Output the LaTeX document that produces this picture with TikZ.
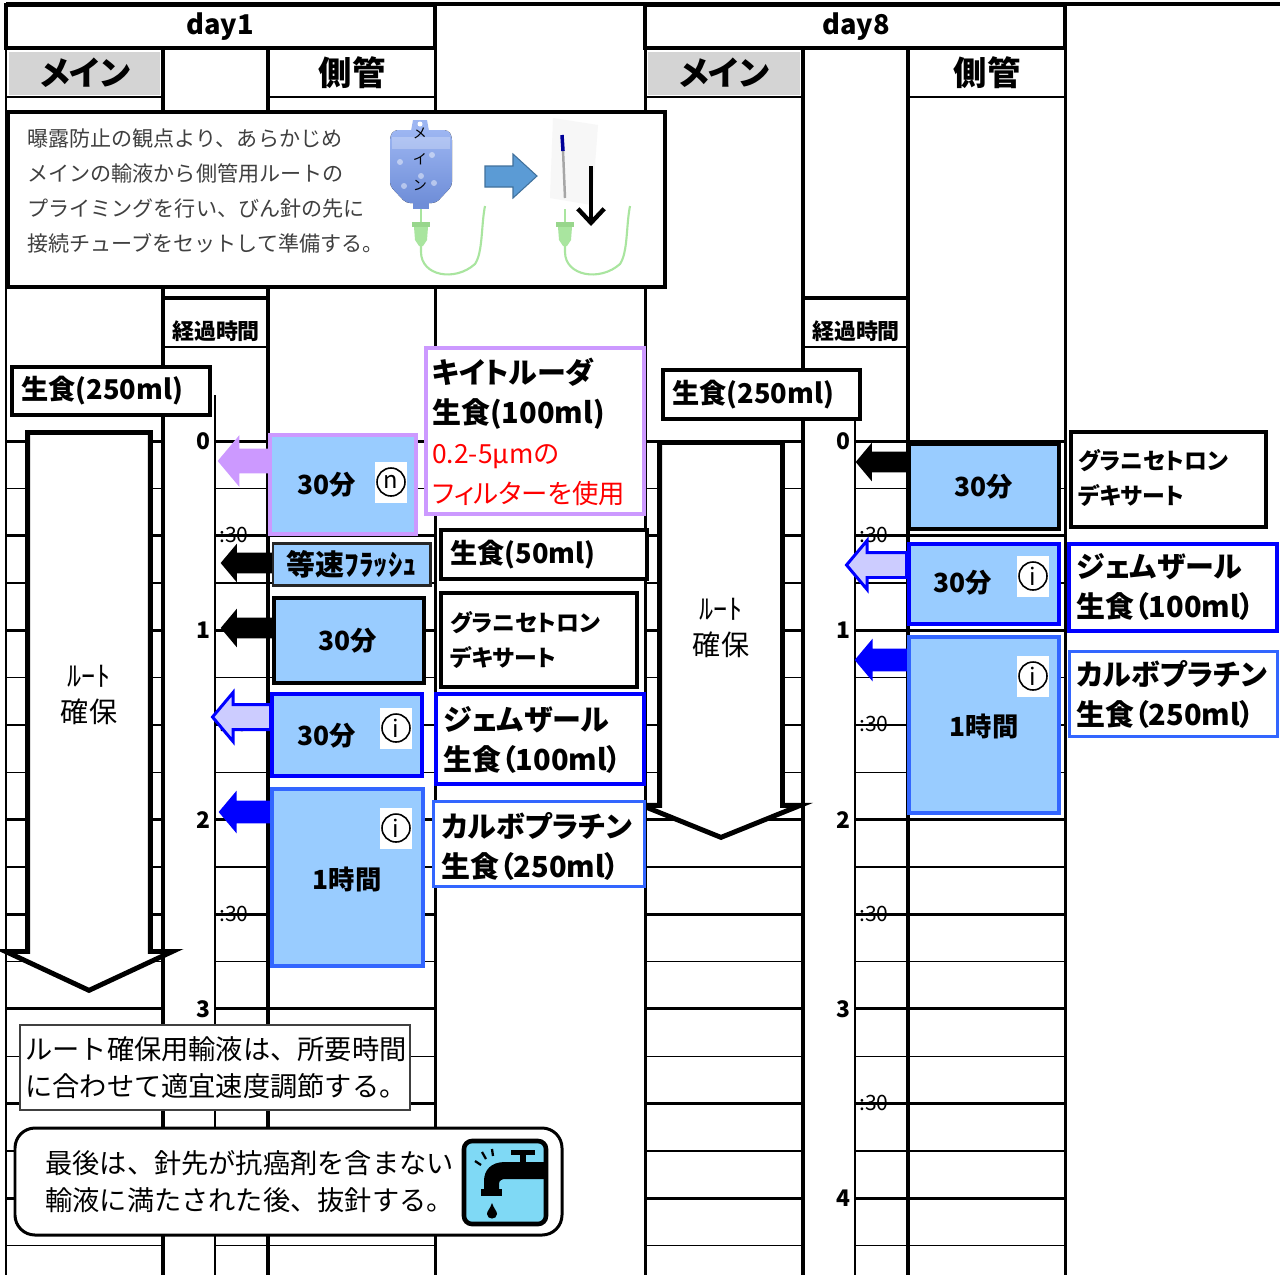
\documentclass[tikz,border=0pt]{standalone}
\usepackage{fontspec}
\setmainfont{Noto Sans CJK JP}
\newfontfamily\pfont{Noto Sans CJK JP}[RawFeature=+palt]
\usepackage{tikz}
\usetikzlibrary{fit,shapes.arrows,arrows.meta}
\definecolor{sideblue}{HTML}{99CCFF}
\definecolor{lilac}{HTML}{CC99FF}
\definecolor{pureblue}{HTML}{0000FF}
\definecolor{midblue}{HTML}{3366FF}
\definecolor{lavender}{HTML}{CCCCFF}
\definecolor{notegray}{HTML}{404040}
\definecolor{tubegreen}{HTML}{A9E59F}
\definecolor{capgreen}{HTML}{98D68C}
\definecolor{tapcyan}{HTML}{7FD9F5}
\definecolor{arrowblue}{HTML}{5B9BD5}
\definecolor{arrowedge}{HTML}{41719C}
\definecolor{bagtop}{HTML}{9DB6F2}
\definecolor{bagbottom}{HTML}{6F8ED8}

\begin{document}
\begin{tikzpicture}[x=0.02cm,y=-0.02cm,
  head/.style={font=\pfont\bfseries\fontsize{15.5}{15.5}\selectfont},
  col/.style={font=\pfont\bfseries\fontsize{19}{19}\selectfont,inner sep=0pt},
  sidebox/.style={fill=sideblue,inner sep=0pt},
  labelbox/.style={fill=white,inner sep=0pt},
  lab/.style={font=\pfont\bfseries\fontsize{16.5}{22.8}\selectfont,align=left,anchor=west,inner sep=0pt},
  smalllab/.style={font=\pfont\bfseries\fontsize{13}{19.8}\selectfont,align=left,anchor=west,inner sep=0pt},
  dur/.style={font=\pfont\bfseries\fontsize{15}{15}\selectfont,inner sep=0pt},
  markbg/.style={fill=white,minimum width=0.64cm,minimum height=0.82cm,inner sep=0pt},
  circmark/.style={circle,draw,line width=0.9pt,minimum size=0.56cm,inner sep=0pt,font=\fontsize{13.5}{13.5}\selectfont},
  flow/.style={single arrow,shape border rotate=180,anchor=tail,inner xsep=0pt,inner ysep=0.2cm,single arrow head extend=0.18cm,single arrow tip angle=100},
  route/.style={single arrow,shape border rotate=270,anchor=tail,draw,fill=white,line width=2.8pt,inner xsep=1.18cm,inner ysep=0pt,single arrow tip angle=130},
  routetext/.style={font=\fontsize{16}{20.4}\selectfont,align=center,inner sep=0pt},
  hr/.style={font=\bfseries\fontsize{13}{13}\selectfont,anchor=east,inner sep=0pt},
  half/.style={font=\fontsize{12}{12}\selectfont,anchor=west,inner sep=0pt},
  note/.style={font=\fontsize{12}{19.8}\selectfont,text=notegray,align=left,anchor=west,inner sep=0pt},
  bignote/.style={font=\fontsize{15.5}{21}\selectfont,align=left,anchor=west,inner sep=0pt},
]
\useasboundingbox (0,0) rectangle (1280,1275);

% time grid
\foreach \i in {0,...,17}{
  \pgfmathsetmacro\gy{441+47.33*\i}
  \ifodd\i \def\lw{0.8pt}\else\def\lw{1.7pt}\fi
  \draw[line width=\lw] (6,\gy) -- (163,\gy) (215,\gy) -- (435,\gy)
    (645,\gy) -- (803,\gy) (855,\gy) -- (1065,\gy);
}

% columns
\draw[line width=2.8pt] (6,4) -- (1280,4);
\draw[line width=1.7pt] (6,4) -- (6,1275) (435,4) -- (435,1275)
  (645,4) -- (645,1275) (1065,4) -- (1065,1275);
\draw[line width=2.8pt] (163,48) -- (163,1275) (268,48) -- (268,1275)
  (803,48) -- (803,1275) (908,48) -- (908,1275);
\draw[line width=0.6pt] (215,395) -- (215,1275) (855,395) -- (855,1275);
\draw[line width=1.7pt] (6,97) -- (163,97) (268,97) -- (435,97)
  (645,97) -- (803,97) (908,97) -- (1065,97);
\draw[line width=2.3pt] (163,298) -- (268,298) (803,298) -- (908,298);
\draw[line width=1.1pt] (163,347) -- (268,347) (803,347) -- (908,347);

% headers
\node[draw,line width=2.8pt,fit={(6,5) (435,48)},inner sep=0pt] (day1) {};
\node[head] (day1t) at (220,27) {day1};
\node[draw,line width=2.8pt,fit={(645,5) (1065,48)},inner sep=0pt] (day8) {};
\node[head] (day8t) at (856,27) {day8};
\node[fill=black!17,fit={(9,52) (160,95)},inner sep=0pt] (main1) {};
\node[col] (main1t) at (85,73) {メイン};
\node[col] (side1t) at (352,73) {側管};
\node[fill=black!17,fit={(648,52) (800,95)},inner sep=0pt] (main8) {};
\node[col] (main8t) at (724,73) {メイン};
\node[col] (side8t) at (987,73) {側管};
\node[font=\bfseries\fontsize{12.5}{12.5}\selectfont] (el1) at (216,331) {経過時間};
\node[font=\bfseries\fontsize{12.5}{12.5}\selectfont] (el8) at (856,331) {経過時間};

% time labels
\foreach \h in {0,...,3} \node[hr] (p\h) at (211,441+189.33*\h) {\h};
\foreach \h in {0,...,2} \node[half] (q\h) at (219,535+189.33*\h) {:30};
\foreach \h in {0,...,4} \node[hr] (r\h) at (851,441+189.33*\h) {\h};
\foreach \h in {0,...,3} \node[half] (u\h) at (859,535+189.33*\h) {:30};

% priming note
\node[draw,line width=2.3pt,fill=white,fit={(8,112) (665,287)},inner sep=0pt] (prime) {};
\node[note] (primet) at (27,191) {曝露防止の観点より、あらかじめ\\メインの輸液から側管用ルートの\\プライミングを行い、びん針の先に\\接続チューブをセットして準備する。};
% bag
\fill[top color=bagtop,bottom color=bagbottom,rounded corners=0.08cm]
  (394,130) -- (448,130) -- (452,136) -- (452,186) -- (436,203) -- (406,203) -- (390,186) -- (390,136) -- cycle;
\fill[bagtop] (411,131) -- (413,120) -- (427,120) -- (429,131) -- cycle;
\fill[white] (420,124) circle (2.5);
\fill[white,opacity=.25] (392,137) rectangle (450,149);
\foreach \bx/\by in {400/162,432/155,421/176,404/186,434/183} \fill[white,opacity=.45] (\bx,\by) circle (3);
\fill[bagbottom] (413,203) rectangle (429,209);
\node[font=\fontsize{8}{8}\selectfont] (bag1) at (420,133) {メ};
\node[font=\fontsize{8}{8}\selectfont] (bag2) at (420,159) {イ};
\node[font=\fontsize{8}{8}\selectfont] (bag3) at (420,185) {ン};
% tubes
\foreach \tx/\ex in {421/485,565/630}{
  \draw[tubegreen,line width=1.2pt] (\tx,209) -- (\tx,222);
  \fill[capgreen] (\tx-9,222) rectangle (\tx+9,227);
  \fill[tubegreen] (\tx-7,227) -- (\tx+7,227) -- (\tx+6,240) -- (\tx+2,246) -- (\tx-2,246) -- (\tx-6,240) -- cycle;
  \draw[tubegreen,line width=1.2pt] (\tx,246) -- (\tx,252) .. controls (\tx,276) and (\ex-30,282) .. (\ex-10,264)
    .. controls (\ex-2,252) and (\ex-4,226) .. (\ex,206);
}
% transfer arrow
\draw[arrowedge,fill=arrowblue,line width=0.6pt] (485,166) -- (513,166) -- (513,154) -- (537,176) -- (513,198) -- (513,187) -- (485,187) -- cycle;
% bottle needle
\fill[black!3] (553,118) -- (598,125) -- (592,205) -- (550,198) -- cycle;
\draw[black!35,line width=1.4pt] (563,150) -- (565,198);
\draw[blue!60!black,line width=2pt] (562,135) -- (563,151);
\draw[line width=2.5pt,-{Straight Barb[length=8pt,width=15pt]}] (591,166) -- (591,226);

% route arrows
\node[route,minimum height=11.16cm,single arrow head extend=0.44cm] (route1) at (89,430) {};
\node[routetext] (rt1) at (89,695) {ﾙｰﾄ\\確保};
\node[route,minimum height=7.9cm,single arrow head extend=0.36cm,single arrow tip angle=136] (route8) at (721,440) {};
\node[routetext] (rt8) at (721,628) {ﾙｰﾄ\\確保};

% saline boxes
\node[draw,line width=2.3pt,labelbox,fit={(12,367) (210,415)}] (sal1) {};
\node[lab,font=\pfont\bfseries\fontsize{15.5}{15.5}\selectfont] (sal1t) at (21,391) {生食(250ml)};
\node[draw,line width=2.3pt,labelbox,fit={(663,370) (860,419)}] (sal8) {};
\node[lab,font=\pfont\bfseries\fontsize{15.5}{15.5}\selectfont] (sal8t) at (672,395) {生食(250ml)};

% day1 flow arrows
\node[flow,fill=lilac,minimum height=1.04cm,inner ysep=0.24cm,single arrow head extend=0.27cm] (a1) at (270,461) {};
\node[flow,fill=black,minimum height=1.04cm] (a2) at (273,563) {};
\node[flow,fill=black,minimum height=1.04cm] (a3) at (273,628) {};
\node[flow,fill=lavender,draw=pureblue,line width=1.7pt,minimum height=1.16cm,inner ysep=0.22cm,single arrow head extend=0.24cm] (a4) at (272,717) {};
\node[flow,fill=pureblue,minimum height=1.06cm,inner ysep=0.22cm,single arrow head extend=0.2cm] (a5) at (272,812) {};

% day1 side boxes
\node[draw=lilac,line width=2.3pt,sidebox,fit={(270,435) (416,534)}] (b1) {};
\node[dur] (b1t) at (327,485) {30分};
\node[markbg] (b1w) at (391,482) {};
\node[circmark] (b1m) at (b1w) {n};
\node[draw=black!85,line width=1.7pt,sidebox,fit={(273,543) (430,585)}] (b2) {};
\node[dur,font=\pfont\bfseries\fontsize{16.5}{16.5}\selectfont] (b2t) at (352,564) {等速ﾌﾗｯｼｭ};
\node[draw,line width=2.8pt,sidebox,fit={(274,598) (424,683)}] (b3) {};
\node[dur] (b3t) at (348,641) {30分};
\node[draw=pureblue,line width=2.3pt,sidebox,fit={(272,694) (422,776)}] (b4) {};
\node[dur] (b4t) at (327,736) {30分};
\node[markbg] (b4w) at (396,728) {};
\node[circmark] (b4m) at (b4w) {i};
\node[draw=midblue,line width=2.3pt,sidebox,fit={(272,789) (423,966)}] (b5) {};
\node[dur] (b5t) at (347,879) {1時間};
\node[markbg] (b5w) at (396,828) {};
\node[circmark] (b5m) at (b5w) {i};

% day1 drug labels
\node[draw=lilac,line width=2.3pt,labelbox,fit={(426,348) (644,514)}] (l1) {};
\node[lab] (l1t) at (432,432) {キイトルーダ\\生食(100ml)\\\textcolor{red}{\mdseries\fontsize{15}{22.8}\selectfont 0.2-5μmの}\\\textcolor{red}{\mdseries\fontsize{15}{22.8}\selectfont フィルターを使用}};
\node[draw,line width=2.3pt,labelbox,fit={(441,530) (647,579)}] (l2) {};
\node[lab,font=\pfont\bfseries\fontsize{15.5}{15.5}\selectfont] (l2t) at (450,555) {生食(50ml)};
\node[draw,line width=2.3pt,labelbox,fit={(441,593) (637,687)}] (l3) {};
\node[smalllab] (l3t) at (450,640) {グラニセトロン\\デキサート};
\node[draw=pureblue,line width=2.3pt,labelbox,fit={(436,694) (644,784)}] (l4) {};
\node[lab] (l4t) at (443,740) {ジェムザール\\生食（100ml）};
\node[draw=midblue,line width=1.7pt,labelbox,fit={(433,801) (644,886)}] (l5) {};
\node[lab] (l5t) at (441,846) {カルボプラチン\\生食（250ml）};

% day8 flow arrows
\node[flow,fill=black,minimum height=1.04cm] (d1) at (908,462) {};
\node[flow,fill=lavender,draw=pureblue,line width=1.7pt,minimum height=1.2cm,inner ysep=0.22cm,single arrow head extend=0.24cm] (d2) at (908,565) {};
\node[flow,fill=pureblue,minimum height=1.06cm,inner ysep=0.22cm,single arrow head extend=0.2cm] (d3) at (908,660) {};

% day8 side boxes
\node[draw,line width=2.8pt,sidebox,fit={(909,444) (1059,529)}] (c1) {};
\node[dur] (c1t) at (984,487) {30分};
\node[draw=pureblue,line width=2.3pt,sidebox,fit={(909,544) (1059,624)}] (c2) {};
\node[dur] (c2t) at (963,583) {30分};
\node[markbg] (c2w) at (1033,576) {};
\node[circmark] (c2m) at (c2w) {i};
\node[draw=midblue,line width=2.3pt,sidebox,fit={(909,637) (1059,813)}] (c3) {};
\node[dur] (c3t) at (984,726) {1時間};
\node[markbg] (c3w) at (1033,676) {};
\node[circmark] (c3m) at (c3w) {i};

% day8 drug labels
\node[draw,line width=2.3pt,labelbox,fit={(1071,432) (1266,527)}] (m1) {};
\node[smalllab] (m1t) at (1078,478) {グラニセトロン\\デキサート};
\node[draw=pureblue,line width=2.3pt,labelbox,fit={(1069,544) (1277,631)}] (m2) {};
\node[lab] (m2t) at (1076,587) {ジェムザール\\生食（100ml）};
\node[draw=midblue,line width=1.7pt,labelbox,fit={(1069,651) (1277,736)}] (m3) {};
\node[lab] (m3t) at (1076,694) {カルボプラチン\\生食（250ml）};

% bottom notes
\node[draw=notegray,line width=0.9pt,labelbox,fit={(20,1025) (410,1110)}] (rate) {};
\node[bignote] (ratet) at (25,1068) {ルート確保用輸液は、所要時間\\に合わせて適宜速度調節する。};
\node[draw,line width=1.7pt,labelbox,rounded corners=0.4cm,fit={(15,1128) (562,1235)}] (last) {};
\node[bignote] (lastt) at (45,1182) {最後は、針先が抗癌剤を含まない\\輸液に満たされた後、抜針する。};
\node[draw,line width=2.6pt,fill=tapcyan,rounded corners=0.16cm,fit={(464,1141) (546,1224)},inner sep=0pt] (tap) {};
\fill (511,1150) rectangle (535,1155);
\fill (520,1155) rectangle (526,1164);
\fill (546,1162) -- (505,1162) .. controls (491,1162) and (484,1170) .. (484,1181) -- (484,1190) -- (499,1190) -- (499,1184)
  .. controls (499,1180) and (502,1179) .. (506,1179) -- (546,1179) -- cycle;
\fill (481,1189) rectangle (502,1196);
\fill (492,1203) .. controls (490,1209) and (487,1211) .. (487,1214) .. controls (487,1220) and (497,1220) .. (497,1214)
  .. controls (497,1211) and (494,1209) .. (492,1203);
\draw[line width=1.3pt] (475,1161) -- (481,1165) (482,1152) -- (486,1159) (492,1149) -- (493,1156);
\end{tikzpicture}
\end{document}
